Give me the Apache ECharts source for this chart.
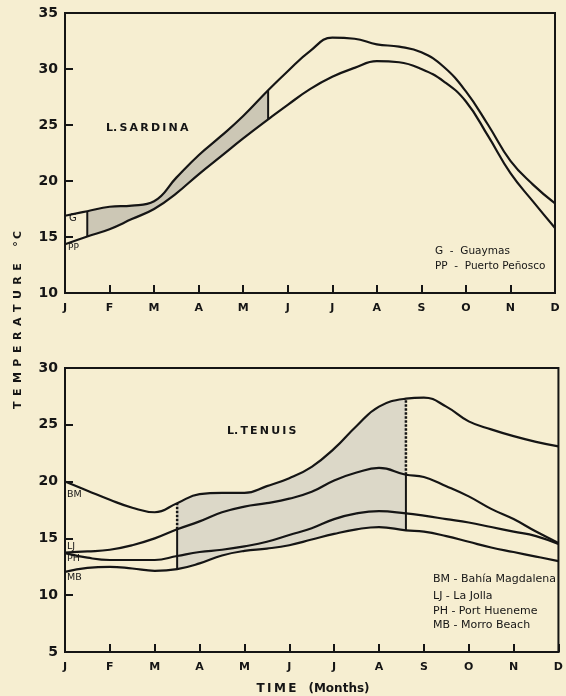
<!DOCTYPE html>
<html>
<head>
<meta charset="utf-8">
<script src="https://cdn.jsdelivr.net/npm/echarts@6/dist/echarts.min.js"></script>
<style>
html,body{margin:0;padding:0;background:#f6eed1;}
#c{width:566px;height:696px;}
</style>
</head>
<body>
<div id="c"></div>
<script>
// ---------- data ----------
const monthLetters = ['J','F','M','A','M','J','J','A','S','O','N','D'];
const topYTicks = [10, 35, 5];     // min, max, interval
const botYTicks = [5, 30, 5];

// L. sardina (top panel)
const topX  = [0,0.5,1,1.5,2,2.5,3,3.5,4,4.56,5,5.5,6,6.5,7,7.5,8,8.5,9,9.5,10,10.5,11];
const guaymas = [16.9,17.3,17.7,17.8,18.2,20.3,22.3,24.0,25.8,28.1,29.8,31.6,32.8,32.7,32.2,32.0,31.5,30.2,28.0,25.0,21.8,19.7,18.0];
const puertoPenasco = [14.35,15.05,15.7,16.6,17.5,18.9,20.6,22.2,23.8,25.5,26.8,28.2,29.3,30.1,30.7,30.6,30.0,28.9,27.1,24.0,20.7,18.2,15.8];
const topShade = [0.5, 4.56];   // months bounding the shaded band

// L. tenuis (bottom panel)
const botX  = [0,0.5,1,1.5,2,2.5,3,3.5,4,4.5,5,5.5,6,6.5,7,7.6,8,8.5,9,9.5,10,10.5,11];
const bahiaMagdalena = [20.0,19.2,18.4,17.7,17.3,18.1,18.9,19.0,19.0,19.6,20.3,21.3,22.9,24.9,26.6,27.3,27.4,26.6,25.3,24.6,24.0,23.5,23.1];
const laJolla        = [13.75,13.85,14.0,14.4,15.0,15.8,16.5,17.3,17.8,18.1,18.5,19.1,20.1,20.8,21.2,20.6,20.4,19.6,18.7,17.6,16.7,15.6,14.6];
const portHueneme    = [13.7,13.3,13.1,13.1,13.1,13.45,13.8,14.0,14.3,14.7,15.3,15.9,16.7,17.2,17.4,17.2,17.0,16.7,16.4,16.0,15.6,15.2,14.5];
const morroBeach     = [12.05,12.4,12.5,12.35,12.15,12.3,12.8,13.5,13.9,14.1,14.4,14.9,15.4,15.8,16.0,15.7,15.6,15.2,14.7,14.2,13.8,13.4,13.0];
const botShade = [2.5, 7.6];

// ---------- styling ----------
const BG = '#f6eed1';
const INK = '#151515';
const FONT = '"DejaVu Sans"';
const pair = (xs, ys) => xs.map((x, i) => [x, ys[i]]);
const idx = (xs, v) => xs.indexOf(v);

function bandGrad(range, color) {
  const a = range[0] / 11, b = range[1] / 11;
  return {type:'linear', x:0, y:0, x2:1, y2:0, colorStops:[
    {offset:0, color:'rgba(0,0,0,0)'}, {offset:a, color:'rgba(0,0,0,0)'},
    {offset:a, color:color}, {offset:b, color:color},
    {offset:b, color:'rgba(0,0,0,0)'}, {offset:1, color:'rgba(0,0,0,0)'}
  ]};
}

function xAxis(gi) {
  return {
    type:'value', gridIndex:gi, min:0, max:11, interval:1, z:4,
    axisLine:{show:true, onZero:false, lineStyle:{color:INK, width:2}},
    axisTick:{show:true, inside:true, length:8, lineStyle:{color:INK, width:2}},
    axisLabel:{margin:10, color:INK, fontFamily:FONT, fontWeight:'bold', fontSize:11,
      formatter: v => monthLetters[Math.round(v)]},
    splitLine:{show:false}
  };
}
function yAxis(gi, t) {
  return {
    type:'value', gridIndex:gi, min:t[0], max:t[1], interval:t[2], z:4,
    axisLine:{show:true, onZero:false, lineStyle:{color:INK, width:2}},
    axisTick:{show:true, inside:true, length:8, lineStyle:{color:INK, width:2}},
    axisLabel:{margin:7, color:INK, fontFamily:FONT, fontWeight:'bold', fontSize:14},
    splitLine:{show:false}
  };
}
function curve(gi, xs, ys, name) {
  return {type:'line', name, xAxisIndex:gi, yAxisIndex:gi, data:pair(xs, ys),
    smooth:0.45, showSymbol:false, symbol:'none', z:3, silent:true,
    lineStyle:{color:INK, width:2.2}};
}
function fill(gi, xs, ys, color, range, z) {
  return {type:'line', xAxisIndex:gi, yAxisIndex:gi, data:pair(xs, ys),
    smooth:0.45, showSymbol:false, symbol:'none', z:z, silent:true,
    lineStyle:{width:0, opacity:0},
    areaStyle:{origin:'start', opacity:1, color:bandGrad(range, color)}};
}
function vline(gi, x, lo, hi, dotted) {
  return {type:'line', xAxisIndex:gi, yAxisIndex:gi, data:[[x, lo],[x, hi]],
    showSymbol:false, symbol:'none', z:3, silent:true,
    lineStyle:{color:INK, width:dotted ? 2.5 : 2, type: dotted ? [2.5, 1.5] : 'solid'}};
}

const ti0 = idx(topX, topShade[0]), ti1 = idx(topX, topShade[1]);
const bi0 = idx(botX, botShade[0]), bi1 = idx(botX, botShade[1]);

const series = [
  // top band
  fill(0, topX, guaymas, '#ccc7b5', topShade, 1),
  fill(0, topX, puertoPenasco, BG, topShade, 2),
  curve(0, topX, guaymas, 'G'),
  curve(0, topX, puertoPenasco, 'PP'),
  vline(0, topShade[0], puertoPenasco[ti0], guaymas[ti0], false),
  vline(0, topShade[1], puertoPenasco[ti1], guaymas[ti1], false),
  // bottom band
  fill(1, botX, bahiaMagdalena, '#dcd8c8', botShade, 1),
  fill(1, botX, morroBeach, BG, botShade, 2),
  curve(1, botX, bahiaMagdalena, 'BM'),
  curve(1, botX, laJolla, 'LJ'),
  curve(1, botX, portHueneme, 'PH'),
  curve(1, botX, morroBeach, 'MB'),
  vline(1, botShade[0], laJolla[bi0], bahiaMagdalena[bi0], true),
  vline(1, botShade[0], morroBeach[bi0], laJolla[bi0], false),
  vline(1, botShade[1], laJolla[bi1], bahiaMagdalena[bi1], true),
  vline(1, botShade[1], morroBeach[bi1], laJolla[bi1], false)
];

function txt(x, y, text, font, align) {
  return {type:'text', x, y, silent:true, z:10,
    style:{text, font, fill:INK, align: align || 'left', verticalAlign:'middle'}};
}

const option = {
  backgroundColor: BG,
  animation:false,
  grid:[
    {left:65, top:13, width:490, height:280, show:true, borderColor:INK, borderWidth:2, backgroundColor:'transparent'},
    {left:65, top:368, width:496, height:284, show:true, borderColor:INK, borderWidth:2, backgroundColor:'transparent'}
  ],
  xAxis:[xAxis(0), xAxis(1)],
  yAxis:[yAxis(0, topYTicks), yAxis(1, botYTicks)],
  series,
  graphic:[
    txt(106, 128, 'L.\u2009S\u2009A\u2009R\u2009D\u2009I\u2009N\u2009A', 'bold 11px ' + FONT),
    txt(227, 431, 'L.\u2009T\u2009E\u2009N\u2009U\u2009I\u2009S', 'bold 11px ' + FONT),
    txt(69, 218, 'G', '10px ' + FONT),
    txt(68, 248, 'PP', '9px ' + FONT),
    txt(435, 251, 'G  -  Guaymas', '10.5px ' + FONT),
    txt(435, 266.5, 'PP  -  Puerto Peñosco', '10.5px ' + FONT),
    txt(67, 495, 'BM', '9.5px ' + FONT),
    txt(67, 547, 'LJ', '9.5px ' + FONT),
    txt(67, 559, 'PH', '9.5px ' + FONT),
    txt(67, 578, 'MB', '9.5px ' + FONT),
    txt(433, 579, 'BM - Bahía Magdalena', '11px ' + FONT),
    txt(433, 596, 'LJ - La Jolla', '11px ' + FONT),
    txt(433, 611, 'PH - Port Hueneme', '11px ' + FONT),
    txt(433, 625, 'MB - Morro Beach', '11px ' + FONT),
    txt(313, 689, 'T\u2009I\u2009M\u2009E\u2003(Months)', 'bold 12px ' + FONT, 'center'),
    {type:'text', x:18, y:320, rotation:Math.PI/2, silent:true, z:10,
      style:{text:'T\u2002E\u2002M\u2002P\u2002E\u2002R\u2002A\u2002T\u2002U\u2002R\u2002E\u2003\u2002°\u2009C',
        font:'bold 11px ' + FONT, fill:INK, align:'center', verticalAlign:'middle'}}
  ]
};

const chart = echarts.init(document.getElementById('c'), null, {renderer:'canvas'});
chart.setOption(option);
</script>
</body>
</html>
